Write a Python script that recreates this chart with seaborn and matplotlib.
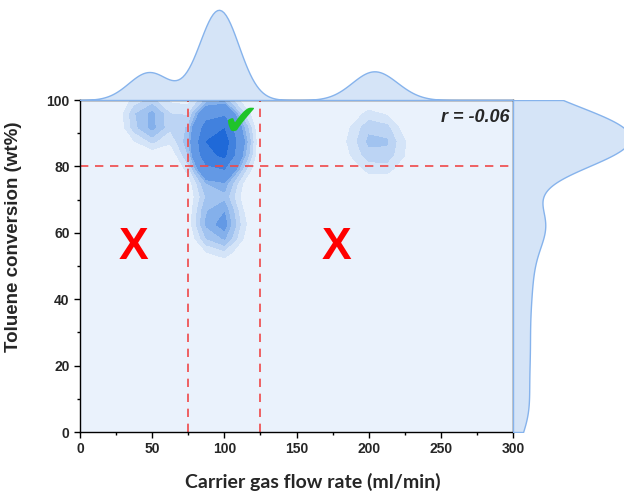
import numpy as np
import pandas as pd
import seaborn as sns
import matplotlib.pyplot as plt
from matplotlib.colors import ListedColormap, BoundaryNorm
from matplotlib.ticker import MultipleLocator

# Carrier gas flow rate (ml/min) and toluene conversion (wt%) per experiment
flow_rate = [40, 50, 55, 48,
             90, 95, 95, 90, 100, 95, 100, 100, 90, 95, 100, 95, 90, 100,
             95, 100, 90, 100, 95,
             190, 205, 210, 220, 200,
             100, 200, 50, 100, 210, 100, 40, 200, 50]
conversion = [95, 92, 96, 93,
              80, 82, 84, 85, 86, 88, 90, 92, 95, 97, 83, 87, 85, 93,
              58, 61, 63, 65, 68,
              86, 80, 90, 85, 93,
              2, 8, 15, 22, 28, 35, 41, 47, 52]

# Threshold guides
flow_low, flow_high = 75, 125
conv_target = 80
r_text = "r = -0.06"

df = pd.DataFrame({"flow": flow_rate, "conv": conversion})

sns.set_theme(style="white")
plt.rcParams["font.family"] = ["Liberation Sans", "DejaVu Sans"]
arial = ["Liberation Sans", "DejaVu Sans"]

W, H = 624, 492
fig = plt.figure(figsize=(W / 100, H / 100), dpi=100)
ax = fig.add_axes([80 / W, 60 / H, 433 / W, 332 / H])
ax_top = fig.add_axes([80 / W, 392 / H, 433 / W, 92 / H])
ax_right = fig.add_axes([513 / W, 60 / H, 111 / W, 332 / H])

band_colors = ["#eaf2fc", "#d4e4f8", "#bcd4f4", "#a1c3f0", "#84b0eb",
               "#6399e5", "#4181de", "#1f69d8"]
iso_levels = [0, 0.38, 0.47, 0.56, 0.65, 0.74, 0.84, 0.93, 1]
ax.set_facecolor(band_colors[0])
sns.kdeplot(data=df, x="flow", y="conv", fill=True, levels=iso_levels,
            cmap=sns.blend_palette(band_colors, as_cmap=True), gridsize=25,
            clip=((0, 300), (0, 100)), cut=20, bw_adjust=0.4, ax=ax)
cset = ax.collections[-1]
cset.set_cmap(ListedColormap(band_colors[:len(cset.levels) - 1]))
cset.set_norm(BoundaryNorm(cset.levels, len(cset.levels) - 1))

face, edge = "#d5e4f7", "#86b3ec"
sns.kdeplot(data=df, x="flow", fill=True, clip=(0, 300), cut=20,
            bw_adjust=0.5, ax=ax_top, alpha=1, linewidth=1)
coll = ax_top.collections[0]
coll.set_facecolor(face)
coll.set_edgecolor(edge)
ymax = max(p.vertices[:, 1].max() for p in coll.get_paths())
ax_top.set_xlim(0, 300)
ax_top.set_ylim(0, ymax * 1.02)
ax_top.set_axis_off()

sns.kdeplot(data=df, y="conv", fill=True, clip=(0, 100), cut=20,
            bw_adjust=0.5, ax=ax_right, alpha=1, linewidth=1)
coll = ax_right.collections[0]
coll.set_facecolor(face)
coll.set_edgecolor(edge)
verts = np.concatenate([p.vertices for p in coll.get_paths()])
d_top = verts[verts[:, 1] >= verts[:, 1].max() - 1e-6, 0].max()
ax_right.set_ylim(0, 100)
ax_right.set_xlim(0, d_top * 111 / 50)
ax_right.set_axis_off()

dash = dict(color="#f04848", lw=1.2, ls=(0, (5, 4)))
ax.axvline(flow_low, **dash)
ax.axvline(flow_high, **dash)
ax.axhline(conv_target, **dash)

ax.set_xlim(0, 300)
ax.set_ylim(0, 100)
ax.xaxis.set_major_locator(MultipleLocator(50))
ax.xaxis.set_minor_locator(MultipleLocator(25))
ax.yaxis.set_major_locator(MultipleLocator(20))
ax.yaxis.set_minor_locator(MultipleLocator(10))
ax.tick_params(which="major", direction="out", length=4, width=1, color="black",
               bottom=True, left=True, labelsize=10)
ax.tick_params(which="minor", direction="out", length=2.5, width=1, color="black",
               bottom=True, left=True)
for lab in ax.get_xticklabels() + ax.get_yticklabels():
    lab.set_fontweight("bold")
    lab.set_fontfamily(arial)
for s in ax.spines.values():
    s.set_visible(True)
    s.set_color("black")
    s.set_linewidth(1)

ax.set_xlabel("Carrier gas flow rate (ml/min)", family=["Lato", "DejaVu Sans"],
              fontweight="bold", fontsize=14)
ax.set_ylabel("Toluene conversion (wt%)", family=arial, fontweight="bold",
              fontsize=13.5)
ax.xaxis.set_label_coords(0.538, -0.123)
ax.yaxis.set_label_coords(-0.134, 0.587)

ax.text(0.993, 0.946, r_text, transform=ax.transAxes, ha="right", va="center",
        fontsize=13, fontweight="bold", fontstyle="italic", family=arial)
ax.text(37, 55.5, "X", color="#ff0000", fontsize=32, fontweight="bold",
        ha="center", va="center", family=arial)
ax.text(178, 55.5, "X", color="#ff0000", fontsize=32, fontweight="bold",
        ha="center", va="center", family=arial)
ax.text(111, 93, "\u2714", color="#1fc42a", fontsize=31,
        family=["DejaVu Sans"], ha="center", va="center")

fig.savefig("out.png", dpi=100)
